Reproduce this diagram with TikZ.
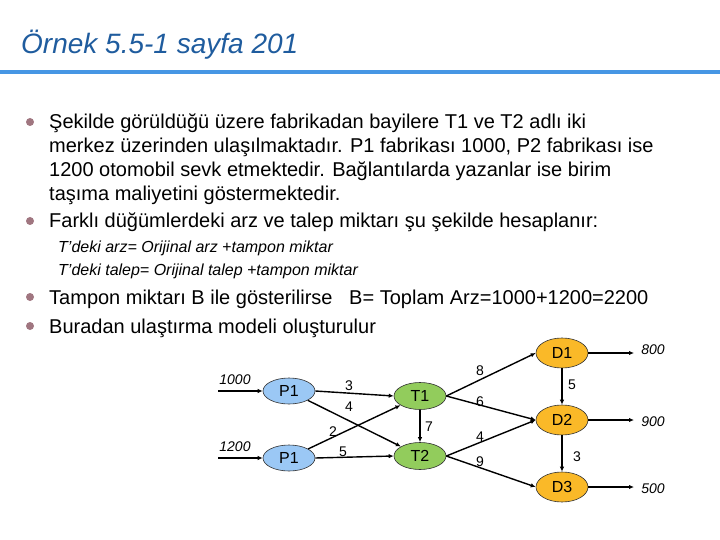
\documentclass[tikz,border=0pt]{standalone}
\usepackage{fontspec}
\setmainfont{Liberation Sans}
\usetikzlibrary{shapes.geometric,arrows.meta}
\definecolor{titleblue}{RGB}{31,92,158}
\definecolor{rulebl}{RGB}{70,150,228}
\definecolor{bulletc}{RGB}{160,118,128}
\definecolor{pfill}{RGB}{155,200,245}
\definecolor{tfill}{RGB}{146,204,92}
\definecolor{dfill}{RGB}{250,185,40}
\tikzset{
  bul/.style={circle,fill=bulletc,inner sep=0pt,minimum size=8pt},
  btext/.style={anchor=base west,inner sep=0pt,font=\fontsize{20}{24}\selectfont},
  stext/.style={anchor=base west,inner sep=0pt,font=\fontsize{16}{18}\selectfont\itshape},
  nd/.style={ellipse,draw=black!80,line width=0.6pt,inner sep=0pt,minimum width=52pt,font=\fontsize{16}{18}\selectfont},
  pn/.style={nd,fill=pfill,minimum height=26pt},
  tn/.style={nd,fill=tfill,minimum height=27pt},
  dn/.style={nd,fill=dfill,minimum height=30pt},
  conn/.style={line width=1.4pt,-{Latex[length=5pt,width=4.5pt]}},
  elab/.style={inner sep=0pt,font=\fontsize{14}{16}\selectfont},
  qlab/.style={inner sep=0pt,font=\fontsize{14}{16}\selectfont\itshape}
}
\begin{document}
\begin{tikzpicture}[x=1pt,y=-1pt]
\useasboundingbox (0,0) rectangle (720,540);
% title
\node[anchor=base west,inner sep=0pt,text=titleblue,font=\fontsize{28}{30}\selectfont\itshape] (title) at (21,54) {Örnek 5.5-1 sayfa 201};
\draw[rulebl,line width=4pt] (0,72) -- (720,72);
% bullets
\node[bul] (b1) at (30,122) {};
\node[btext] (l1) at (49,129) {Şekilde görüldüğü üzere fabrikadan bayilere T1 ve T2 adlı iki};
\node[btext] (l2) at (49,153) {merkez üzerinden ulaşılmaktadır. P1 fabrikası 1000, P2 fabrikası ise};
\node[btext] (l3) at (49,177) {1200 otomobil sevk etmektedir. Bağlantılarda yazanlar ise birim};
\node[btext] (l4) at (49,201) {taşıma maliyetini göstermektedir.};
\node[bul] (b2) at (30,221) {};
\node[btext] (l5) at (49,228) {Farklı düğümlerdeki arz ve talep miktarı şu şekilde hesaplanır:};
\node[stext] (s1) at (58,252) {T'deki arz= Orijinal arz +tampon miktar};
\node[stext] (s2) at (58,275) {T'deki talep= Orijinal talep +tampon miktar};
\node[bul] (b3) at (30,297) {};
\node[btext] (l6) at (49,304) {Tampon miktarı B ile gösterilirse\ \ \ B= Toplam Arz=1000+1200=2200};
\node[bul] (b4) at (30,326) {};
\node[btext] (l7) at (49,333) {Buradan ulaştırma modeli oluşturulur};
% network nodes
\node[pn] (P1) at (289,391) {P1};
\node[pn] (P2) at (289,458) {P1};
\node[tn] (T1) at (420,396) {T1};
\node[tn] (T2) at (420,456) {T2};
\node[dn] (D1) at (562,353) {D1};
\node[dn] (D2) at (562,420) {D2};
\node[dn] (D3) at (562,487) {D3};
\coordinate (in1) at (218,391);
\coordinate (in2) at (218,458);
\coordinate (o1) at (634,353);
\coordinate (o2) at (634,420);
\coordinate (o3) at (634,487);
% connectors
\draw[conn] (in1) -- (P1.west);
\draw[conn] (in2) -- (P2.west);
\draw[conn] (P1.east) -- (T1.west);
\draw[conn] (P1) -- (T2);
\draw[conn] (P2) -- (T1);
\draw[conn] (P2.east) -- (T2.west);
\draw[conn] (T1.south) -- (T2.north);
\draw[conn] (T1.east) -- (D1.west);
\draw[conn] (T1.east) -- (D2.west);
\draw[conn] (T2.east) -- (D2.west);
\draw[conn] (T2.east) -- (D3.west);
\draw[conn] (D1.south) -- (D2.north);
\draw[conn] (D2.south) -- (D3.north);
\draw[conn] (D1.east) -- (o1);
\draw[conn] (D2.east) -- (o2);
\draw[conn] (D3.east) -- (o3);
% labels
\node[qlab] (q1) at (235,380) {1000};
\node[qlab] (q2) at (235,447) {1200};
\node[qlab] (q3) at (653,350) {800};
\node[qlab] (q4) at (653,422) {900};
\node[qlab] (q5) at (653,489) {500};
\node[elab] (e1) at (349,386) {3};
\node[elab] (e2) at (349,407) {4};
\node[elab] (e3) at (333,432) {2};
\node[elab] (e4) at (343,452) {5};
\node[elab] (e5) at (429,427) {7};
\node[elab] (e6) at (480,371) {8};
\node[elab] (e7) at (480,402) {6};
\node[elab] (e8) at (480,437) {4};
\node[elab] (e9) at (480,462) {9};
\node[elab] (e10) at (572,385) {5};
\node[elab] (e11) at (577,457) {3};
\end{tikzpicture}
\end{document}
